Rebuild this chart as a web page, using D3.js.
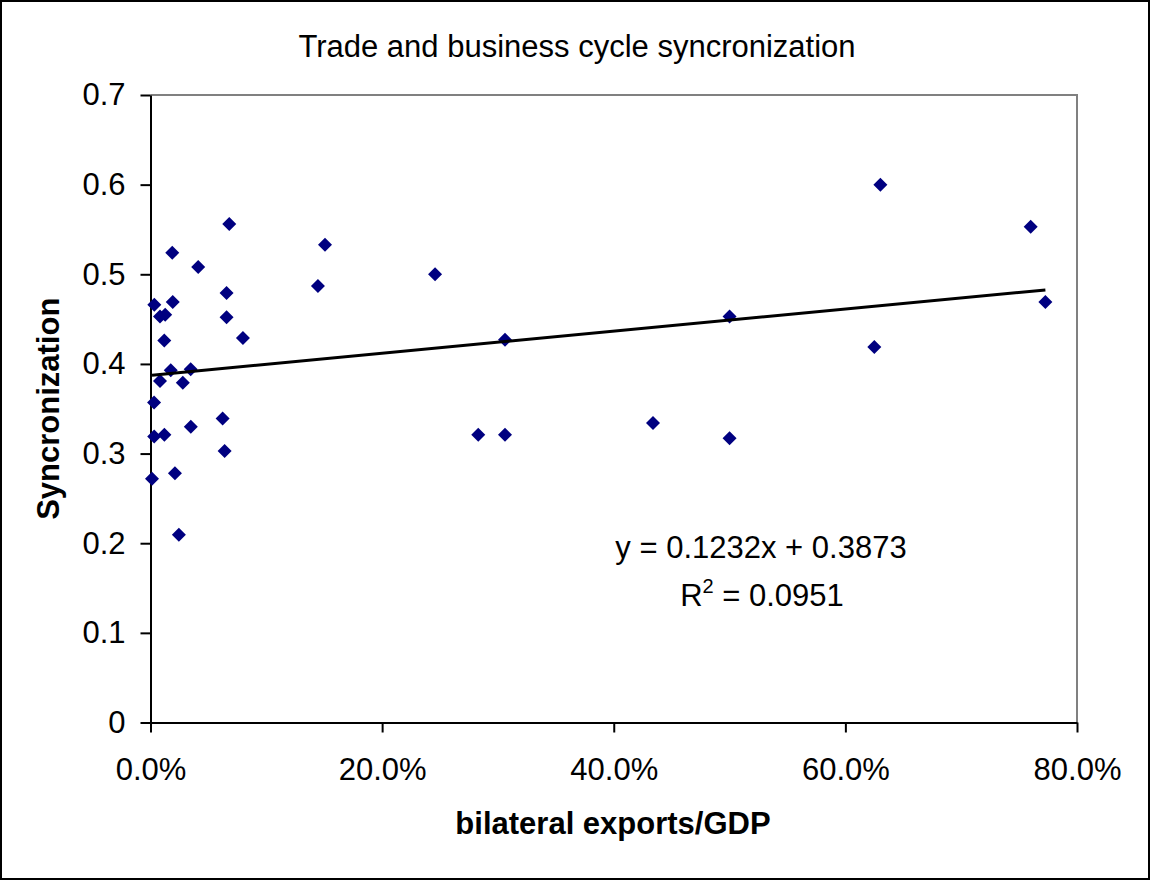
<!DOCTYPE html>
<html>
<head>
<meta charset="utf-8">
<script src="https://cdn.jsdelivr.net/npm/d3@7"></script>
<style>
  body { margin: 0; background: #fff; }
  svg { display: block; font-family: 'Liberation Sans', Arial, sans-serif; }
  .tick text { font-size: 31px; fill: #000; }
</style>
</head>
<body>
<svg width="1150" height="880"></svg>
<script>
// bilateral exports / GDP (share) and synchronization
var exportsGdp = [0.0013, 0.0033, 0.0031, 0.0032, 0.0082, 0.0119, 0.0127, 0.0082, 0.0120,
  0.0175, 0.0188, 0.0192, 0.0211, 0.0245, 0.0279, 0.0347, 0.0348, 0.0412,
  0.0623, 0.0640, 0.0657, 0.0657, 0.0680, 0.0798, 0.1446, 0.1507, 0.2457,
  0.2830, 0.3061, 0.3061, 0.4339, 0.5000, 0.5000, 0.6250, 0.6302, 0.7600, 0.7727];
var sync = [0.272, 0.466, 0.357, 0.319, 0.453, 0.426, 0.455, 0.381, 0.321,
  0.393, 0.524, 0.469, 0.278, 0.2095, 0.379, 0.394, 0.330, 0.508,
  0.339, 0.303, 0.452, 0.479, 0.556, 0.429, 0.487, 0.533, 0.500,
  0.321, 0.427, 0.321, 0.334, 0.453, 0.317, 0.419, 0.600, 0.553, 0.469];
var xTicks = [0, 0.2, 0.4, 0.6, 0.8];
var yTicks = [0, 0.1, 0.2, 0.3, 0.4, 0.5, 0.6, 0.7];
var slope = 0.1232, intercept = 0.3873, r2 = '0.0951';

var svg = d3.select('svg');
var plotL = 150.5, plotR = 1077, plotT = 95, plotB = 722.5;

var x = d3.scaleLinear().domain([0, 0.8]).range([plotL, plotR]);
var y = d3.scaleLinear().domain([0, 0.7]).range([plotB, plotT]);

// outer frame
svg.append('rect')
  .attr('x', 1).attr('y', 1).attr('width', 1148).attr('height', 878)
  .attr('fill', 'none').attr('stroke', '#000').attr('stroke-width', 2);

// plot frame (top/right gray)
svg.append('path')
  .attr('d', `M${plotL},${plotT}H${plotR}V${plotB}`)
  .attr('fill', 'none').attr('stroke', '#808080').attr('stroke-width', 2);

svg.append('g')
  .attr('transform', `translate(0,${plotB})`)
  .call(d3.axisBottom(x).tickValues(xTicks).tickFormat(d3.format('.1%')).tickSize(10).tickSizeOuter(0).tickPadding(25))
  .call(g => g.selectAll('line, path').attr('stroke', '#000').attr('stroke-width', 2));

svg.append('g')
  .attr('transform', `translate(${plotL},0)`)
  .call(d3.axisLeft(y).tickValues(yTicks).tickFormat(d => d === 0 ? '0' : d3.format('.1f')(d)).tickSize(10).tickSizeOuter(0).tickPadding(15))
  .call(g => g.selectAll('line, path').attr('stroke', '#000').attr('stroke-width', 2));

svg.selectAll('.tick text').attr('font-family', "'Liberation Sans', Arial, sans-serif");

// points
var pts = exportsGdp.map((v, i) => ({ x: v, y: sync[i] }));
svg.append('g').selectAll('path')
  .data(pts)
  .enter()
  .append('path')
  .attr('transform', d => `translate(${x(d.x)},${y(d.y)})`)
  .attr('d', 'M0,-7L7,0L0,7L-7,0Z')
  .attr('fill', '#000080');

// trend line
var x0 = d3.min(exportsGdp), x1 = d3.max(exportsGdp);
svg.append('line')
  .attr('x1', x(x0)).attr('y1', y(slope * x0 + intercept))
  .attr('x2', x(x1)).attr('y2', y(slope * x1 + intercept))
  .attr('stroke', '#000').attr('stroke-width', 3);

svg.append('text')
  .attr('x', 761).attr('y', 558)
  .attr('text-anchor', 'middle').attr('font-size', 31)
  .text(`y = ${slope}x + ${intercept}`);

var rt = svg.append('text')
  .attr('x', 762).attr('y', 606)
  .attr('text-anchor', 'middle').attr('font-size', 31);
rt.append('tspan').text('R');
rt.append('tspan').attr('dy', -13).attr('font-size', 20).text('2');
rt.append('tspan').attr('dy', 13).text(` = ${r2}`);

svg.append('text')
  .attr('x', 577).attr('y', 57)
  .attr('text-anchor', 'middle').attr('font-size', 31)
  .text('Trade and business cycle syncronization');

svg.append('text')
  .attr('x', 613).attr('y', 834)
  .attr('text-anchor', 'middle').attr('font-size', 31).attr('font-weight', 'bold')
  .text('bilateral exports/GDP');

svg.append('text')
  .attr('transform', `translate(59,${(plotT + plotB) / 2}) rotate(-90)`)
  .attr('text-anchor', 'middle').attr('font-size', 31).attr('font-weight', 'bold')
  .text('Syncronization');
</script>
</body>
</html>
